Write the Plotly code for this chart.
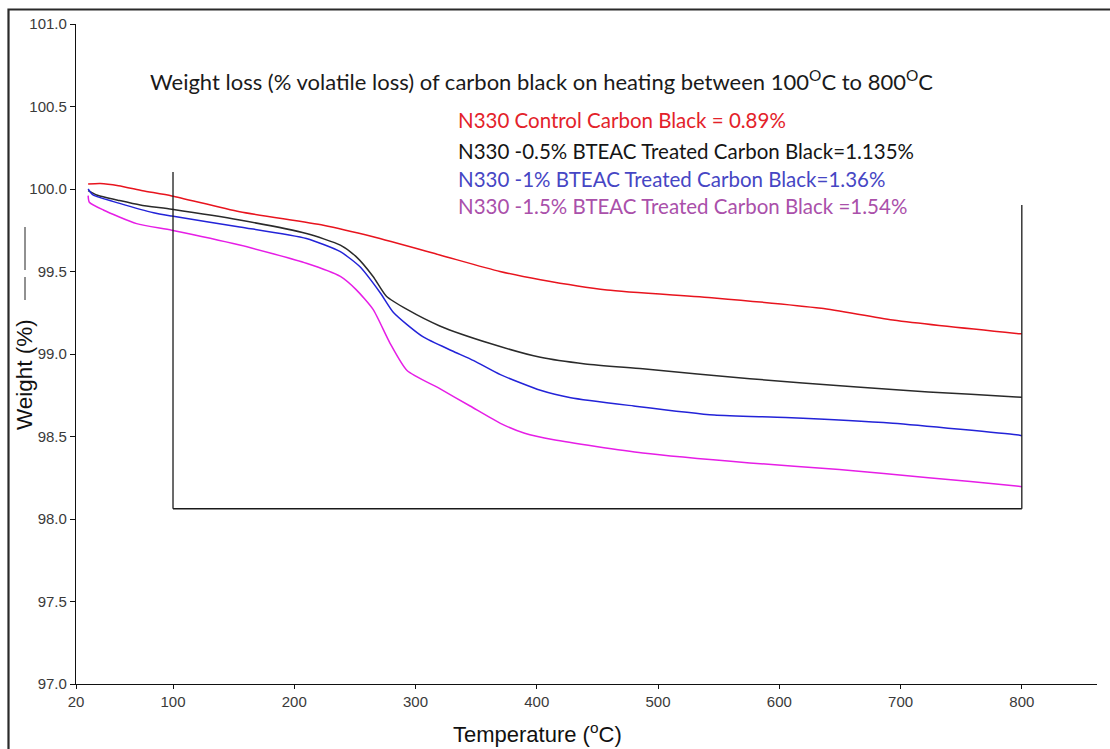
import plotly.graph_objects as go

# ---- data ----
t_red = [30, 40, 55, 75, 99, 155, 224, 265, 320, 369.6, 403, 457.9, 546.3, 634.6, 693.6, 795.5, 800]
w_red = [100.03, 100.033, 100.02, 99.99, 99.958, 99.862, 99.78, 99.71, 99.60, 99.50, 99.45, 99.388, 99.34, 99.277, 99.206, 99.125, 99.122]

t_black = [30, 37, 56, 73, 99, 155, 210, 238, 251, 265, 276, 293, 320, 361, 403, 440, 487.4, 575.7, 664.1, 723, 795.5, 800]
w_black = [99.99, 99.964, 99.93, 99.903, 99.877, 99.812, 99.73, 99.66, 99.59, 99.47, 99.35, 99.27, 99.17, 99.065, 98.98, 98.94, 98.91, 98.85, 98.80, 98.77, 98.74, 98.738]

t_blue = [30, 34, 56, 84, 99, 155, 210, 238, 254, 271, 282, 306, 330, 348, 370, 403, 428, 480, 546.3, 605.2, 693.6, 795.5, 800]
w_blue = [100.00, 99.964, 99.913, 99.856, 99.836, 99.77, 99.70, 99.62, 99.53, 99.37, 99.25, 99.105, 99.02, 98.96, 98.875, 98.78, 98.735, 98.685, 98.63, 98.615, 98.58, 98.51, 98.505]

t_mag = [30, 31, 42.5, 70, 99, 155, 210, 238, 251, 265, 279, 293, 320, 345, 370, 390, 414, 487.4, 575.7, 649.4, 723, 795.5, 800]
w_mag = [99.96, 99.92, 99.873, 99.79, 99.75, 99.66, 99.55, 99.47, 99.39, 99.27, 99.065, 98.90, 98.79, 98.685, 98.58, 98.52, 98.48, 98.40, 98.34, 98.30, 98.25, 98.20, 98.195]

x_ticks = [20, 100, 200, 300, 400, 500, 600, 700, 800]
y_ticks = [97.0, 97.5, 98.0, 98.5, 99.0, 99.5, 100.0, 100.5, 101.0]

# inner frame drawn in the original (temperature / weight coordinates)
box_left_x, box_right_x = 100, 800
box_bottom_y, box_left_top_y, box_right_top_y = 98.062, 100.103, 99.903

title_text = "Weight loss (% volatile loss) of carbon black on heating between 100<sup>O</sup>C to 800<sup>O</sup>C"
legend_texts = [
    ("N330 Control Carbon Black = 0.89%", "#e3222a"),
    ("N330 -0.5% BTEAC Treated Carbon Black=1.135%", "#151515"),
    ("N330 -1% BTEAC Treated Carbon Black=1.36%", "#4646c4"),
    ("N330 -1.5% BTEAC Treated Carbon Black =1.54%", "#aa50aa"),
]
legend_y_px = [120, 151, 179, 206]

series = [
    (t_red, w_red, "#e8141e"),
    (t_black, w_black, "#2a2a2a"),
    (t_blue, w_blue, "#2323d8"),
    (t_mag, w_mag, "#e61ee6"),
]

fig = go.Figure()
for t, w, c in series:
    fig.add_trace(go.Scatter(x=t, y=w, mode="lines",
                             line=dict(color=c, width=1.5, shape="spline", smoothing=0.6),
                             showlegend=False, hoverinfo="skip"))

X0, X1 = 20, 862
L, R, T, B = 76, 13, 24, 65
W, H = 1110, 749
pw, ph = W - L - R, H - T - B

def px2paper_x(px):
    return (px - L) / pw

def py2paper_y(py):
    return (H - B - py) / ph

fig.update_layout(
    width=W, height=H, autosize=False,
    margin=dict(l=L, r=R, t=T, b=B),
    paper_bgcolor="white", plot_bgcolor="white",
    font=dict(family="Liberation Sans, Arial, sans-serif", color="#3a3a3a", size=15),
    xaxis=dict(range=[X0, X1], tickvals=x_ticks, ticks="outside", ticklen=4,
               tickcolor="#111", showline=True, linecolor="#111", linewidth=1.3,
               showgrid=False, zeroline=False, tickfont=dict(size=15, color="#3a3a3a")),
    yaxis=dict(range=[97.0, 101.0], tickvals=y_ticks, tickformat=".1f", ticks="outside",
               ticklen=5, tickcolor="#111", showline=True, linecolor="#111", linewidth=1.3,
               showgrid=False, zeroline=False, tickfont=dict(size=15, color="#3a3a3a")),
)

shapes = []
lc = dict(color="#1a1a1a", width=1.3)
shapes.append(dict(type="line", xref="x", yref="y", x0=box_left_x, x1=box_left_x,
                   y0=box_bottom_y, y1=box_left_top_y, line=lc))
shapes.append(dict(type="line", xref="x", yref="y", x0=box_left_x, x1=box_right_x,
                   y0=box_bottom_y, y1=box_bottom_y, line=lc))
shapes.append(dict(type="line", xref="x", yref="y", x0=box_right_x, x1=box_right_x,
                   y0=box_bottom_y, y1=box_right_top_y, line=lc))
# outer picture frame
shapes.append(dict(type="rect", xref="paper", yref="paper",
                   x0=px2paper_x(8.5), x1=px2paper_x(1130), y0=py2paper_y(770), y1=py2paper_y(9.5),
                   line=dict(color="#2a2a2a", width=2.2), fillcolor="rgba(0,0,0,0)"))
# stray short legend strokes left of the y axis
for a, b in [(227, 270), (277, 300)]:
    shapes.append(dict(type="line", xref="paper", yref="paper",
                       x0=px2paper_x(25), x1=px2paper_x(25),
                       y0=py2paper_y(a), y1=py2paper_y(b), line=dict(color="#222", width=1)))
fig.update_layout(shapes=shapes)

ann = []
ann.append(dict(text=title_text, xref="paper", yref="paper", x=px2paper_x(148), y=py2paper_y(80),
                xanchor="left", yanchor="middle", showarrow=False,
                font=dict(family="Lato, sans-serif", size=22, color="#1a1a1a")))
for (txt, col), yy in zip(legend_texts, legend_y_px):
    ann.append(dict(text=txt, xref="paper", yref="paper", x=px2paper_x(456), y=py2paper_y(yy),
                    xanchor="left", yanchor="middle", showarrow=False,
                    font=dict(family="Lato, sans-serif", size=20.5, color=col)))
ann.append(dict(text="Weight (%)", xref="paper", yref="paper", x=px2paper_x(25), y=py2paper_y(375),
                xanchor="center", yanchor="middle", textangle=-90, showarrow=False,
                font=dict(family="Liberation Sans, Arial, sans-serif", size=22.5, color="#111")))
ann.append(dict(text="Temperature (<sup>o</sup>C)", xref="paper", yref="paper",
                x=px2paper_x(537), y=py2paper_y(733), xanchor="center", yanchor="middle",
                showarrow=False,
                font=dict(family="Liberation Sans, Arial, sans-serif", size=22, color="#111")))
fig.update_layout(annotations=ann)

fig.write_html("out.html")
